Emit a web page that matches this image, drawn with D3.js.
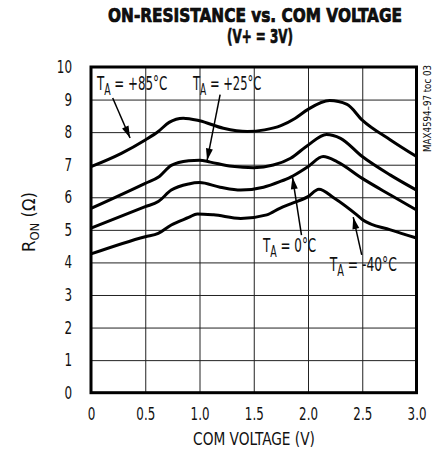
<!DOCTYPE html>
<html>
<head>
<meta charset="utf-8">
<script src="https://cdn.jsdelivr.net/npm/d3@7"></script>
<style>
  body { margin: 0; background: #fff; }
  text { fill: #111; }
</style>
</head>
<body>
<div id="chart"></div>
<script>
// Werte (COM-Spannung in V, R_ON in Ohm)
const v85 = [0, 0.28, 0.5, 0.62, 0.72, 0.85, 1.0, 1.22, 1.44, 1.6, 1.75, 1.88, 2.0, 2.2, 2.36, 2.5, 2.76, 3.0];
const r85 = [6.94, 7.35, 7.76, 8.02, 8.3, 8.43, 8.35, 8.12, 8.02, 8.07, 8.2, 8.42, 8.7, 8.97, 8.85, 8.37, 7.76, 7.25];

const v25 = [0, 0.5, 0.63, 0.74, 0.9, 1.0, 1.1, 1.3, 1.5, 1.68, 1.84, 2.0, 2.17, 2.3, 2.5, 2.76, 3.0];
const r25 = [5.66, 6.43, 6.64, 6.98, 7.12, 7.14, 7.08, 6.95, 6.91, 6.99, 7.2, 7.6, 7.93, 7.81, 7.25, 6.68, 6.22];

const v0 = [0, 0.5, 0.62, 0.74, 0.9, 1.0, 1.19, 1.38, 1.59, 1.74, 1.84, 2.0, 2.14, 2.27, 2.5, 2.76, 3.0];
const r0 = [5.05, 5.71, 5.87, 6.22, 6.41, 6.45, 6.31, 6.22, 6.31, 6.48, 6.62, 6.94, 7.25, 7.09, 6.58, 6.07, 5.61];

const vm40 = [0, 0.5, 0.62, 0.74, 0.9, 0.98, 1.13, 1.38, 1.62, 1.74, 1.84, 2.0, 2.1, 2.24, 2.45, 2.5, 2.76, 3.0];
const rm40 = [4.26, 4.79, 4.89, 5.15, 5.38, 5.49, 5.46, 5.35, 5.46, 5.66, 5.8, 6.02, 6.25, 5.98, 5.46, 5.32, 5.0, 4.75];

const xTicks = [0, 0.5, 1.0, 1.5, 2.0, 2.5, 3.0];
const xTickLabels = ["0", "0.5", "1.0", "1.5", "2.0", "2.5", "3.0"];
const yTicks = [0, 1, 2, 3, 4, 5, 6, 7, 8, 9, 10];

// Beschriftungen: Name, Textposition (V, Ohm), Pfeil von / nach (V, Ohm)
const labelNames = ["+85°C", "+25°C", "0°C", "-40°C"];
const labelPos = [[0.055, 9.29], [0.94, 9.29], [1.585, 4.32], [2.2, 3.74]];
const arrowFrom = [[0.2, 9.05], [1.19, 9.15], [1.94, 4.84], [2.495, 4.23]];
const arrowTo = [[0.36, 7.82], [1.07, 7.13], [1.857, 6.62], [2.417, 5.39]];

const width = 433;
const height = 454;
const mLeft = 91, mRight = 416.5, mTop = 67, mBottom = 392.7;

const svg = d3.select("#chart")
    .append("svg")
    .attr("width", width)
    .attr("height", height);

const x = d3.scaleLinear().domain([0, 3]).range([mLeft, mRight]);
const y = d3.scaleLinear().domain([0, 10]).range([mBottom, mTop]);

const font = "'DejaVu Sans Condensed', 'Liberation Sans', sans-serif";

// schmale Schrift nachbilden: Breite grob je Zeichen
function narrowWidth(s) {
    let w = 0;
    for (const c of s) w += (c === "." ? 3.6 : c === " " ? 3.6 : 7.6);
    return w;
}

// Text in einer Gruppe horizontal auf Zielbreite stauchen
function squeeze(g, tr, target) {
    const t = g.select("text");
    const w = t.node().getBBox().width;
    g.attr("transform", `${tr} scale(${target / w},1)`);
}

// Gitter + Achsen
const gx = svg.append("g")
    .attr("transform", `translate(0,${mBottom})`)
    .call(d3.axisBottom(x).tickValues(xTicks)
        .tickFormat((d, i) => xTickLabels[i])
        .tickSize(-(mBottom - mTop)).tickPadding(15));
const gy = svg.append("g")
    .attr("transform", `translate(${mLeft},0)`)
    .call(d3.axisLeft(y).tickValues(yTicks).tickSize(-(mRight - mLeft)).tickPadding(19));

[gx, gy].forEach(g => {
    g.select(".domain").remove();
    g.selectAll("line").attr("stroke", "#222").attr("stroke-width", 1);
    g.selectAll("text")
        .attr("font-family", font)
        .attr("font-size", 17)
        .attr("fill", "#111")
        .attr("textLength", function() { return narrowWidth(this.textContent); })
        .attr("lengthAdjust", "spacingAndGlyphs");
});

// Kurven
const series = [[v85, r85], [v25, r25], [v0, r0], [vm40, rm40]];
const line = d3.line()
    .x(d => x(d[0]))
    .y(d => y(d[1]))
    .curve(d3.curveMonotoneX);

svg.selectAll("path.curve")
    .data(series)
    .enter()
    .append("path")
    .attr("class", "curve")
    .attr("d", s => line(s[0].map((v, i) => [v, s[1][i]])))
    .attr("fill", "none")
    .attr("stroke", "#000")
    .attr("stroke-width", 3)
    .attr("stroke-linejoin", "round");

// Rahmen
svg.append("rect")
    .attr("x", mLeft).attr("y", mTop)
    .attr("width", mRight - mLeft).attr("height", mBottom - mTop)
    .attr("fill", "none")
    .attr("stroke", "#000")
    .attr("stroke-width", 3);

// Pfeile
const defs = svg.append("defs");
defs.append("marker")
    .attr("id", "head")
    .attr("viewBox", "0 0 12 8")
    .attr("refX", 12).attr("refY", 4)
    .attr("markerWidth", 13).attr("markerHeight", 8)
    .attr("markerUnits", "userSpaceOnUse")
    .attr("orient", "auto")
    .append("path")
    .attr("d", "M0,0.5 L12,4 L0,7.5 Z")
    .attr("fill", "#000");

svg.selectAll("line.arrow")
    .data(arrowFrom)
    .enter()
    .append("line")
    .attr("class", "arrow")
    .attr("x1", d => x(d[0]))
    .attr("y1", d => y(d[1]))
    .attr("x2", (d, i) => x(arrowTo[i][0]))
    .attr("y2", (d, i) => y(arrowTo[i][1]))
    .attr("stroke", "#000")
    .attr("stroke-width", 1.5)
    .attr("marker-end", "url(#head)");

// Temperatur-Beschriftungen
const labelWidths = [71, 69, 54, 68];
labelNames.forEach((name, i) => {
    const g = svg.append("g");
    const t = g.append("text")
        .attr("font-family", font)
        .attr("font-size", 19);
    t.append("tspan").text("T");
    t.append("tspan").attr("dy", 5).attr("font-size", 15).text("A");
    t.append("tspan").attr("dy", -5).text(" = " + name);
    squeeze(g, `translate(${x(labelPos[i][0])},${y(labelPos[i][1])})`, labelWidths[i]);
});

// Titel
const t1 = svg.append("g");
t1.append("text")
    .attr("text-anchor", "middle")
    .attr("font-family", font)
    .attr("font-weight", "bold")
    .attr("font-size", 20)
    .attr("stroke", "#000")
    .attr("stroke-width", 0.7)
    .text("ON-RESISTANCE vs. COM VOLTAGE");
squeeze(t1, "translate(255,22)", 294);

const t2 = svg.append("g");
t2.append("text")
    .attr("text-anchor", "middle")
    .attr("font-family", font)
    .attr("font-weight", "bold")
    .attr("font-size", 20)
    .attr("stroke", "#000")
    .attr("stroke-width", 0.7)
    .text("(V+ = 3V)");
squeeze(t2, "translate(260,43)", 66);

// Achsentitel
const xt = svg.append("g");
xt.append("text")
    .attr("text-anchor", "middle")
    .attr("font-family", font)
    .attr("font-size", 17)
    .text("COM VOLTAGE (V)");
squeeze(xt, "translate(254,445)", 122);

const ytg = svg.append("g");
const yt = ytg.append("text")
    .attr("text-anchor", "middle")
    .attr("font-family", font)
    .attr("font-size", 17);
yt.append("tspan").text("R");
yt.append("tspan").attr("dy", 4).attr("font-size", 12).text("ON");
yt.append("tspan").attr("dy", -4).text(" (Ω)");
squeeze(ytg, "translate(35,222) rotate(-90)", 60);

// Kennung rechts
const idg = svg.append("g");
idg.append("text")
    .attr("text-anchor", "end")
    .attr("font-family", font)
    .attr("font-size", 10)
    .attr("fill", "#333")
    .text("MAX4594–97 toc 03");
squeeze(idg, "translate(431,65) rotate(-90)", 87);
</script>
</body>
</html>
